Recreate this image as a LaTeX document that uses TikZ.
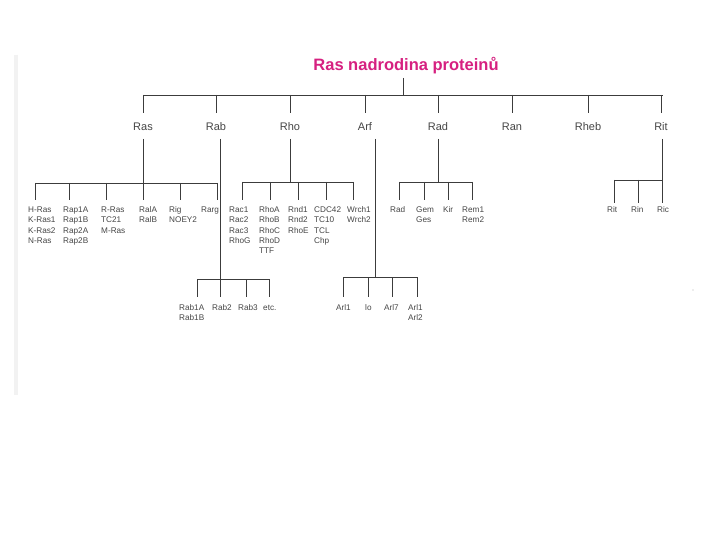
\documentclass[tikz,border=0pt]{standalone}
\usepackage{fontspec}
\setmainfont{Liberation Sans}
\definecolor{titlec}{RGB}{214,32,128}
\definecolor{linec}{RGB}{60,60,60}
\definecolor{textc}{RGB}{70,70,70}
\newcommand{\lbls}[1]{\vtop{\baselineskip=10.5pt\lineskiplimit=-20pt\halign{##\hfil\cr#1\crcr}}}
\begin{document}
\begin{tikzpicture}[x=1pt,y=-1pt,
  line/.style={draw=linec, line width=0.8pt},
  fam/.style={text=textc, font=\fontsize{11}{13}\selectfont, inner sep=0},
  leaf/.style={text=textc, font=\fontsize{8.2}{10.5}\selectfont, anchor=base west, inner sep=0}]
\useasboundingbox (0,0) rectangle (720,540);
\fill[white] (0,0) rectangle (720,540);
% scan edge
\draw[gray!10, line width=4pt] (16,55) -- (16,395);
\fill[gray!60] (693,290) circle (0.7);
% title
\node[text=titlec, font=\fontsize{16.5}{18}\selectfont\bfseries, inner sep=0] (title) at (406,66) {Ras nadrodina proteinů};
\coordinate (tl) at (403,78);
\coordinate (top) at (403,95);
\draw[line] (tl) -- (top);
\draw[line] (143,95) -- (663,95);
% families
\foreach \x/\n/\t in {143/ras/Ras, 216/rab/Rab, 290/rho/Rho, 365/arf/Arf, 438/rad/Rad, 512/ran/Ran, 588/rheb/Rheb, 661/rit/Rit}{
  \node[fam] (\n) at (\x,127) {\t};
  \draw[line] (\x,95) -- (\x,113);
}
% Ras group
\draw[line] (143,139) -- (143,183);
\draw[line] (35,183) -- (217,183);
\foreach \x in {35,69,106,143,180,217}{\draw[line] (\x,183) -- (\x,200);}
\node[leaf] (hras) at (28,212) {\lbls{H-Ras\cr K-Ras1\cr K-Ras2\cr N-Ras}};
\node[leaf] (rap) at (63,212) {\lbls{Rap1A\cr Rap1B\cr Rap2A\cr Rap2B}};
\node[leaf] (rras) at (101,212) {\lbls{R-Ras\cr TC21\cr M-Ras}};
\node[leaf] (ral) at (139,212) {\lbls{RalA\cr RalB}};
\node[leaf] (rig) at (169,212) {\lbls{Rig\cr NOEY2}};
\node[leaf] (rarg) at (201,212) {\lbls{Rarg}};
% Rab group
\draw[line] (220,139) -- (220,297);
\draw[line] (197,279) -- (269,279);
\foreach \x in {197,246,269}{\draw[line] (\x,279) -- (\x,297);}
\node[leaf] (rab1) at (179,310) {\lbls{Rab1A\cr Rab1B}};
\node[leaf] (rab2) at (212,310) {\lbls{Rab2}};
\node[leaf] (rab3) at (238,310) {\lbls{Rab3}};
\node[leaf] (etc) at (263,310) {\lbls{etc.}};
% Rho group
\draw[line] (290,139) -- (290,182);
\draw[line] (242,182) -- (353,182);
\foreach \x in {242,270,298,326,353}{\draw[line] (\x,182) -- (\x,200);}
\node[leaf] (rac) at (229,212) {\lbls{Rac1\cr Rac2\cr Rac3\cr RhoG}};
\node[leaf] (rhoa) at (259,212) {\lbls{RhoA\cr RhoB\cr RhoC\cr RhoD\cr TTF}};
\node[leaf] (rnd) at (288,212) {\lbls{Rnd1\cr Rnd2\cr RhoE}};
\node[leaf] (cdc) at (314,212) {\lbls{CDC42\cr TC10\cr TCL\cr Chp}};
\node[leaf] (wrch) at (347,212) {\lbls{Wrch1\cr Wrch2}};
% Arf group
\draw[line] (375,139) -- (375,277);
\draw[line] (343,277) -- (417,277);
\foreach \x in {343,368,392,417}{\draw[line] (\x,277) -- (\x,297);}
\node[leaf] (arl1) at (336,310) {\lbls{Arl1}};
\node[leaf] (lo) at (365,310) {\lbls{lo}};
\node[leaf] (arl7) at (384,310) {\lbls{Arl7}};
\node[leaf] (arlb) at (408,310) {\lbls{Arl1\cr Arl2}};
% Rad group
\draw[line] (438,139) -- (438,182);
\draw[line] (399,182) -- (472,182);
\foreach \x in {399,424,448,472}{\draw[line] (\x,182) -- (\x,200);}
\node[leaf] (radl) at (390,212) {\lbls{Rad}};
\node[leaf] (gem) at (416,212) {\lbls{Gem\cr Ges}};
\node[leaf] (kir) at (443,212) {\lbls{Kir}};
\node[leaf] (rem) at (462,212) {\lbls{Rem1\cr Rem2}};
% Rit group
\draw[line] (662,139) -- (662,180);
\draw[line] (614,180) -- (662,180);
\foreach \x in {614,638,662}{\draw[line] (\x,180) -- (\x,203);}
\node[leaf] (ritl) at (607,212) {\lbls{Rit}};
\node[leaf] (rin) at (631,212) {\lbls{Rin}};
\node[leaf] (ric) at (657,212) {\lbls{Ric}};
\end{tikzpicture}
\end{document}
